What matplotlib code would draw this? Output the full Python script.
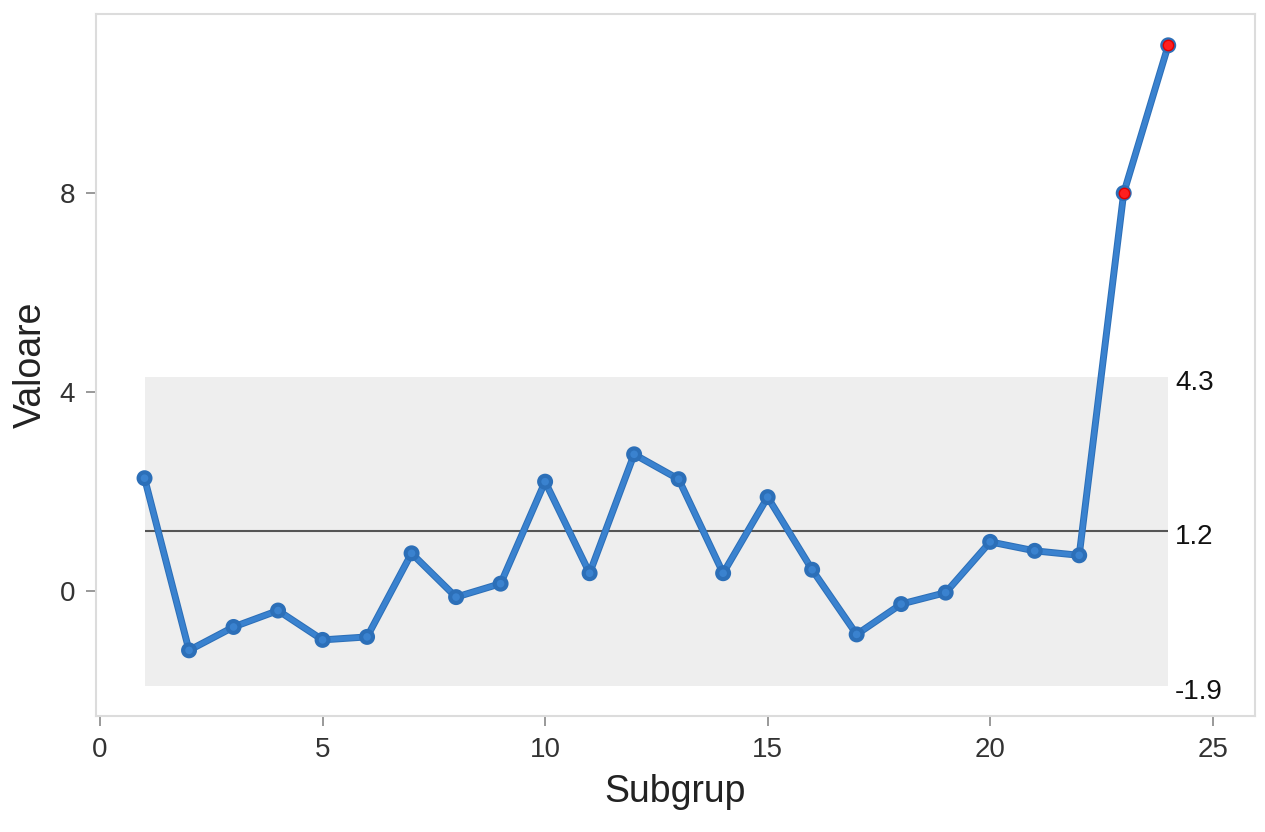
import numpy as np
import matplotlib
matplotlib.use("Agg")
import matplotlib.pyplot as plt
import matplotlib.patheffects as pe

plt.rcParams['font.family'] = ['Liberation Sans', 'DejaVu Sans']

# subgroup index and measured values
subgroups = list(range(1, 25))
values = [2.27, -1.19, -0.72, -0.39, -0.98, -0.92, 0.76, -0.12, 0.15, 2.2,
          0.36, 2.75, 2.25, 0.36, 1.89, 0.43, -0.87, -0.26, -0.03, 0.99,
          0.81, 0.72, 8.0, 10.97]

# control limits
ucl = 4.3
center = 1.2
lcl = -1.9
limit_labels = ["4.3", "1.2", "-1.9"]

x = np.array(subgroups)
y = np.array(values)

fig = plt.figure(figsize=(12.65, 8.32), dpi=100)
ax = fig.add_axes([0.0759, 0.1394, 0.9162, 0.8438])

# shaded band between the limits
ax.fill_between([x[0], x[-1]], lcl, ucl, color="#eeeeee", lw=0, zorder=1)
ax.hlines(center, x[0], x[-1], color="#555555", lw=1.5, zorder=2)

blue = "#3a82cf"
ax.plot(x, y, color=blue, lw=3.5, marker="o", ms=6.5, mfc=blue, mec="#2c6fb8",
        zorder=3, path_effects=[pe.Stroke(linewidth=5, foreground="#2c6fb8"), pe.Normal()])

# points outside the limits in red
out = (y > ucl) | (y < lcl)
ax.plot(x[out], y[out], "o", ms=7.5, color="#ff1f1f", mec="#e00000", zorder=4)

# limit labels on the right
for val, lab in zip([ucl, center, lcl], limit_labels):
    ax.text(24.15, val - 0.12, lab, fontsize=20, color="#111111", va="center", ha="left")

ax.set_xlim(-0.09, 25.95)
ax.set_ylim(-2.51, 11.6)
ax.set_xticks([0, 5, 10, 15, 20, 25])
ax.set_yticks([0, 4, 8])

for s in ax.spines.values():
    s.set_color("#dcdcdc")
    s.set_linewidth(1.5)

ax.tick_params(axis="both", labelsize=20, colors="#888888", labelcolor="#333333",
               length=7, width=1.2, pad=8)

ax.set_xlabel("Subgrup", fontsize=27, color="#222222", labelpad=8)
ax.set_ylabel("Valoare", fontsize=27, color="#222222", labelpad=8)

fig.savefig("out.png", dpi=100, facecolor="white")
